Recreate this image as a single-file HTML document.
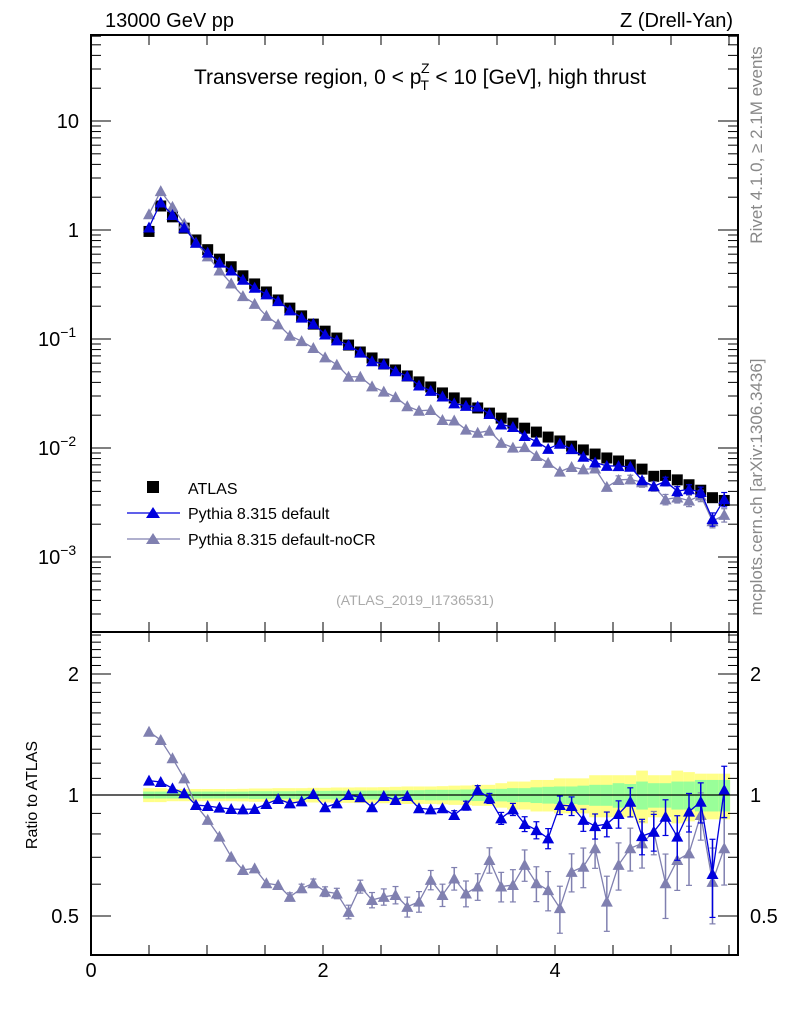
<!DOCTYPE html>
<html><head><meta charset="utf-8">
<style>
body{margin:0;background:#fff;}
svg{display:block;font-family:"Liberation Sans",sans-serif;}
</style></head>
<body>
<svg id="chart" width="786" height="1024" viewBox="0 0 786 1024" xmlns="http://www.w3.org/2000/svg">
<text x="105" y="27" font-size="20">13000 GeV pp</text>
<text x="733" y="27" font-size="20" text-anchor="end">Z (Drell-Yan)</text>
<text x="420" y="84" font-size="21" text-anchor="middle">Transverse region, 0 &lt; p<tspan font-size="14" dx="-1" dy="6">T</tspan><tspan font-size="14" dx="-8" dy="-17">Z</tspan><tspan dy="11"> &lt; 10 [GeV], high thrust</tspan></text>
<text transform="translate(762,145) rotate(-90)" font-size="17" fill="#888" text-anchor="middle">Rivet 4.1.0, ≥ 2.1M events</text>
<text transform="translate(762,487) rotate(-90)" font-size="17" fill="#888" text-anchor="middle">mcplots.cern.ch [arXiv:1306.3436]</text>
<text x="415" y="605" font-size="14" fill="#aaa" text-anchor="middle">(ATLAS_2019_I1736531)</text>
<text transform="translate(37,795) rotate(-90)" font-size="16" text-anchor="middle">Ratio to ATLAS</text>
<g id="bands"></g>
<g id="marks"></g>
<g id="axes"></g>
<g>
 <rect x="147" y="481" width="12" height="12" fill="#000"/>
 <text x="188" y="494" font-size="16">ATLAS</text>
 <line x1="127" y1="513" x2="180" y2="513" stroke="#0000dd" stroke-width="1.3"/>
 <polygon points="153,507 160,518 146,518" fill="#0000dd"/>
 <text x="188" y="519" font-size="16">Pythia 8.315 default</text>
 <line x1="127" y1="539" x2="180" y2="539" stroke="#8080b0" stroke-width="1.3"/>
 <polygon points="153,533 160,544 146,544" fill="#8080b0"/>
 <text x="188" y="545" font-size="16">Pythia 8.315 default-noCR</text>
</g>
</svg>
<script>
const xCenters=[];for(let i=0;i<50;i++)xCenters.push(+(0.5+i*0.1012).toFixed(4));
const atlasVals=[0.97,1.66,1.32,1.04,0.81,0.66,0.54,0.46,0.38,0.32,0.27,0.228,0.192,0.163,0.137,0.118,0.102,0.088,0.076,0.067,0.059,0.052,0.0458,0.0404,0.0363,0.032,0.0288,0.0259,0.0233,0.0209,0.0188,0.0169,0.0152,0.014,0.0126,0.0116,0.0104,0.0096,0.0088,0.0081,0.0076,0.007,0.0064,0.0055,0.0056,0.0051,0.0046,0.0041,0.0035,0.0033];
const ratioDefault=[1.086,1.077,1.039,1.01,0.944,0.939,0.93,0.923,0.921,0.923,0.95,0.977,0.953,0.964,1.006,0.932,0.953,1.0,0.987,0.932,0.994,0.972,0.994,0.927,0.921,0.927,0.892,0.941,1.029,0.981,0.875,0.921,0.847,0.818,0.78,0.944,0.939,0.867,0.837,0.847,0.897,0.962,0.79,0.81,0.883,0.788,0.909,0.962,0.636,1.029];
const ratioNoCR=[1.437,1.37,1.234,1.10,0.944,0.867,0.788,0.702,0.651,0.657,0.603,0.597,0.558,0.586,0.603,0.575,0.569,0.512,0.592,0.548,0.558,0.564,0.527,0.543,0.615,0.564,0.62,0.569,0.592,0.689,0.592,0.597,0.67,0.603,0.58,0.523,0.644,0.663,0.737,0.543,0.67,0.737,0.758,0.81,0.603,0.689,0.716,0.892,0.608,0.737];
const errDefault=[0.005,0.005,0.005,0.005,0.005,0.005,0.005,0.006,0.006,0.006,0.007,0.007,0.008,0.008,0.009,0.01,0.01,0.011,0.012,0.013,0.014,0.015,0.016,0.017,0.018,0.02,0.022,0.024,0.026,0.028,0.03,0.032,0.036,0.04,0.045,0.05,0.05,0.055,0.06,0.06,0.07,0.08,0.08,0.085,0.09,0.1,0.1,0.11,0.14,0.15];
const errNoCR=[0.005,0.005,0.005,0.005,0.006,0.006,0.007,0.008,0.009,0.01,0.011,0.012,0.013,0.014,0.015,0.016,0.017,0.02,0.022,0.024,0.026,0.028,0.03,0.032,0.034,0.036,0.04,0.042,0.045,0.05,0.05,0.055,0.06,0.06,0.065,0.07,0.07,0.075,0.08,0.085,0.09,0.09,0.1,0.1,0.11,0.11,0.12,0.12,0.13,0.14];
const bandInner=[0.02,0.02,0.02,0.02,0.02,0.02,0.02,0.02,0.02,0.022,0.022,0.022,0.022,0.024,0.024,0.024,0.025,0.025,0.026,0.026,0.026,0.027,0.028,0.028,0.03,0.03,0.03,0.032,0.034,0.035,0.036,0.04,0.04,0.045,0.048,0.05,0.05,0.055,0.06,0.06,0.07,0.065,0.08,0.07,0.07,0.08,0.08,0.09,0.09,0.09];
const bandOuter=[0.04,0.04,0.035,0.035,0.035,0.035,0.035,0.035,0.036,0.038,0.038,0.04,0.04,0.04,0.042,0.042,0.044,0.044,0.045,0.045,0.046,0.048,0.05,0.05,0.05,0.052,0.055,0.056,0.06,0.06,0.07,0.08,0.08,0.09,0.09,0.1,0.1,0.1,0.12,0.12,0.12,0.12,0.15,0.12,0.12,0.15,0.14,0.13,0.13,0.13];
const xTickLabels=["0","2","4"];
const mainTickLabels=["10","1","10","10","10"];
const mainTickExps=["","","−1","−2","−3"];
const ratioTickLabels=["0.5","1","2"];

const NS="http://www.w3.org/2000/svg";
const L=91,R=738,T1=35,B1=632,B2=955;
const X=v=>L+v*116;
const Ym=v=>230-Math.log10(v)*109;
const Yr=v=>795-Math.log10(v)*402;
function mk(tag,attrs,parent){const e=document.createElementNS(NS,tag);for(const k in attrs)e.setAttribute(k,attrs[k]);parent.appendChild(e);return e;}
const bands=document.getElementById('bands'),marks=document.getElementById('marks'),axes=document.getElementById('axes');
const hw=0.0506;
for(let i=0;i<xCenters.length;i++){
 const x0=X(xCenters[i]-hw),x1=X(xCenters[i]+hw);
 const o=mk('rect',{x:x0,y:Yr(1+bandOuter[i]),width:x1-x0,height:Yr(1-bandOuter[i])-Yr(1+bandOuter[i]),fill:'#ffff88'},bands);
 
 
 const n=mk('rect',{x:x0,y:Yr(1+bandInner[i]),width:x1-x0,height:Yr(1-bandInner[i])-Yr(1+bandInner[i]),fill:'#99ff99'},bands);
 
 
}
mk('line',{x1:L,x2:R,y1:Yr(1),y2:Yr(1),stroke:'#000','stroke-width':1.3},bands);
function tri(x,y,c,parent,name){const p=mk('polygon',{points:`${x},${y-6} ${x+6},${y+5} ${x-6},${y+5}`,fill:c},parent);}
function series(vals,err,c,yf,name,isRatio){
 const pts=vals.map((v,i)=>X(xCenters[i])+','+yf(v)).join(' ');
 const pl=mk('polyline',{points:pts,fill:'none',stroke:c,'stroke-width':1.3},marks);
 
 
 vals.forEach((v,i)=>{const x=X(xCenters[i]);const e=isRatio?err[i]:err[i]*v;
  if(Math.abs(yf(v+e)-yf(v))>4){mk('line',{x1:x,x2:x,y1:yf(v+e),y2:yf(Math.max(v-e,1e-5)),stroke:c,'stroke-width':1.5},marks);
   mk('line',{x1:x-3,x2:x+3,y1:yf(v+e),y2:yf(v+e),stroke:c,'stroke-width':1.2},marks);
   mk('line',{x1:x-3,x2:x+3,y1:yf(v-e),y2:yf(v-e),stroke:c,'stroke-width':1.2},marks);}
  tri(x,yf(v),c,marks,name+'-point');});
}
atlasVals.forEach((v,i)=>{const r=mk('rect',{x:X(xCenters[i])-5.5,y:Ym(v)-5.5,width:11,height:11,fill:'#000'},marks);
 
 });
const nocrMain=atlasVals.map((v,i)=>v*ratioNoCR[i]);
const defMain=atlasVals.map((v,i)=>v*ratioDefault[i]);
series(nocrMain,errNoCR,'#8080b0',Ym,'nocr-main',false);
series(defMain,errDefault,'#0000dd',Ym,'default-main',false);
series(ratioNoCR,errNoCR,'#8080b0',Yr,'nocr-ratio',true);
series(ratioDefault,errDefault,'#0000dd',Yr,'default-ratio',true);
mk('rect',{x:L,y:T1,width:R-L,height:B1-T1,fill:'none',stroke:'#000','stroke-width':2},axes);
mk('rect',{x:L,y:B1,width:R-L,height:B2-B1,fill:'none',stroke:'#000','stroke-width':2},axes);
for(let k=0;k<=11;k++){const x=X(k*0.5);const len=10;
 [T1,B1].forEach(y=>mk('line',{x1:x,x2:x,y1:y,y2:y+len,stroke:'#000'},axes));
 [B1,B2].forEach(y=>mk('line',{x1:x,x2:x,y1:y,y2:y-len,stroke:'#000'},axes));}
xTickLabels.forEach((t,i)=>{const tx=mk('text',{x:X(i*2),y:977,'font-size':20,'text-anchor':'middle'},axes);tx.textContent=t;
 
 });
for(let d=-4;d<=1;d++)for(let m=1;m<10;m++){const v=m*Math.pow(10,d);const y=Ym(v);if(y<T1||y>B1)continue;const len=m==1?20:10;
 mk('line',{x1:L,x2:L+len,y1:y,y2:y,stroke:'#000'},axes);mk('line',{x1:R,x2:R-len,y1:y,y2:y,stroke:'#000'},axes);}
mainTickLabels.forEach((t,i)=>{const y=Ym(Math.pow(10,1-i))+7;
 const tx=mk('text',{x:i<2?79:38,y:y,'font-size':20,'text-anchor':i<2?'end':'start'},axes);tx.textContent=t;
 
 
 if(mainTickExps[i]){const s=mk('tspan',{'font-size':14,dy:-9},tx);s.textContent=mainTickExps[i];}});
for(let m=4;m<=25;m++){const v=m/10;const y=Yr(v);if(y<B1||y>B2)continue;const maj=(v==0.5||v==1||v==2);const len=maj?20:10;
 mk('line',{x1:L,x2:L+len,y1:y,y2:y,stroke:'#000'},axes);mk('line',{x1:R,x2:R-len,y1:y,y2:y,stroke:'#000'},axes);}
ratioTickLabels.forEach(t=>{const y=Yr(parseFloat(t))+7;
 const a=mk('text',{x:79,y:y,'font-size':20,'text-anchor':'end'},axes);a.textContent=t;
 
 
 const b=mk('text',{x:750,y:y,'font-size':20},axes);b.textContent=t;
 
 });
</script>
</body></html>
